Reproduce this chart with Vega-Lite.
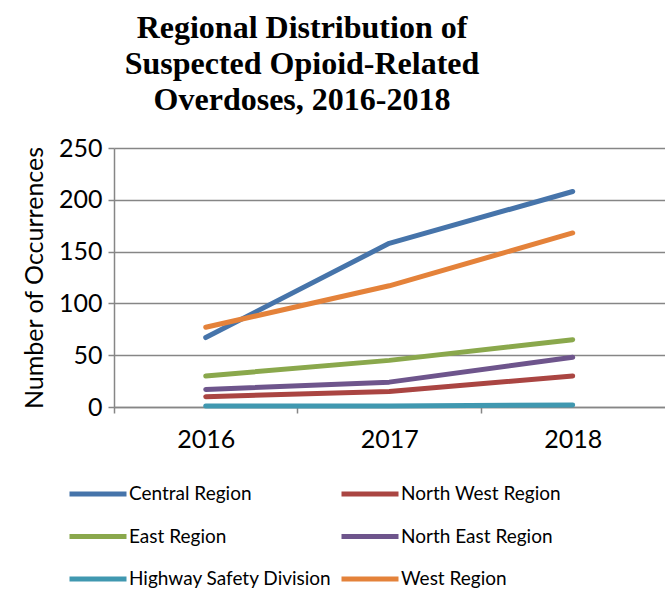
{
  "$schema": "https://vega.github.io/schema/vega-lite/v6.json",
  "autosize": {"type": "none"},
  "padding": {"left": 114, "top": 148, "right": 0, "bottom": 182},
  "width": 551,
  "height": 259,
  "background": "white",
  "title": {
    "text": ["Regional Distribution of", "Suspected Opioid-Related", "Overdoses, 2016-2018"],
    "font": "Liberation Serif",
    "fontSize": 32,
    "fontWeight": "bold",
    "color": "black",
    "lineHeight": 36,
    "anchor": "middle",
    "align": "center",
    "dx": -87.5,
    "offset": 19,
    "frame": "group"
  },
  "data": {
    "values": [
      {"year": 2016, "region": "Central Region", "value": 67},
      {"year": 2017, "region": "Central Region", "value": 158},
      {"year": 2018, "region": "Central Region", "value": 208},
      {"year": 2016, "region": "North West Region", "value": 10},
      {"year": 2017, "region": "North West Region", "value": 15},
      {"year": 2018, "region": "North West Region", "value": 30},
      {"year": 2016, "region": "East Region", "value": 30},
      {"year": 2017, "region": "East Region", "value": 45},
      {"year": 2018, "region": "East Region", "value": 65},
      {"year": 2016, "region": "North East Region", "value": 17},
      {"year": 2017, "region": "North East Region", "value": 24},
      {"year": 2018, "region": "North East Region", "value": 48},
      {"year": 2016, "region": "Highway Safety Division", "value": 1},
      {"year": 2017, "region": "Highway Safety Division", "value": 1},
      {"year": 2018, "region": "Highway Safety Division", "value": 2},
      {"year": 2016, "region": "West Region", "value": 77},
      {"year": 2017, "region": "West Region", "value": 117},
      {"year": 2018, "region": "West Region", "value": 168}
    ]
  },
  "mark": {"type": "line", "strokeWidth": 5, "strokeCap": "round", "strokeJoin": "round"},
  "encoding": {
    "x": {
      "field": "year",
      "type": "quantitative",
      "scale": {"domain": [2015.5, 2018.503], "nice": false, "zero": false},
      "axis": {
        "title": null,
        "values": [2015.5, 2016, 2016.5, 2017, 2017.5, 2018],
        "labelExpr": "datum.value % 1 === 0 ? '' + datum.value : ''",
        "labelFont": "Lato",
        "labelFontSize": 25,
        "labelColor": "black",
        "labelPadding": 14,
        "labelFlush": false,
        "labelOverlap": false,
        "grid": false,
        "domain": true,
        "domainColor": "#868686",
        "domainWidth": 1.5,
        "tickColor": "#868686",
        "tickWidth": 1.5,
        "tickSize": 6,
        "tickOpacity": {"condition": {"test": "datum.value % 1 === 0", "value": 0}, "value": 1}
      }
    },
    "y": {
      "field": "value",
      "type": "quantitative",
      "scale": {"domain": [0, 250], "nice": false},
      "axis": {
        "title": "Number of Occurrences",
        "titleFont": "Lato",
        "titleFontSize": 25,
        "titleFontWeight": "normal",
        "titleColor": "black",
        "titlePadding": 11,
        "values": [0, 50, 100, 150, 200, 250],
        "labelFont": "Lato",
        "labelFontSize": 25,
        "labelColor": "black",
        "labelPadding": 6,
        "grid": true,
        "gridColor": "#868686",
        "gridWidth": 1.5,
        "domainColor": "#868686",
        "domainWidth": 1.5,
        "tickColor": "#868686",
        "tickWidth": 1.5,
        "tickSize": 6
      }
    },
    "color": {
      "field": "region",
      "type": "nominal",
      "scale": {
        "domain": ["Central Region", "North West Region", "East Region", "North East Region", "Highway Safety Division", "West Region"],
        "range": ["#4674AA", "#AA4542", "#8AA84C", "#6E558C", "#4098B0", "#E4823A"]
      },
      "legend": {
        "title": null,
        "orient": "none",
        "legendX": -47,
        "legendY": 315,
        "direction": "horizontal",
        "columns": 2,
        "columnPadding": -1,
        "rowPadding": 1.5,
        "padding": 0,
        "symbolType": "stroke",
        "symbolSize": 3249,
        "symbolStrokeWidth": 5,
        "labelFont": "Lato",
        "labelFontSize": 19,
        "labelColor": "black",
        "labelOffset": 0,
        "labelLimit": 400
      }
    }
  },
  "config": {"view": {"stroke": null}}
}
